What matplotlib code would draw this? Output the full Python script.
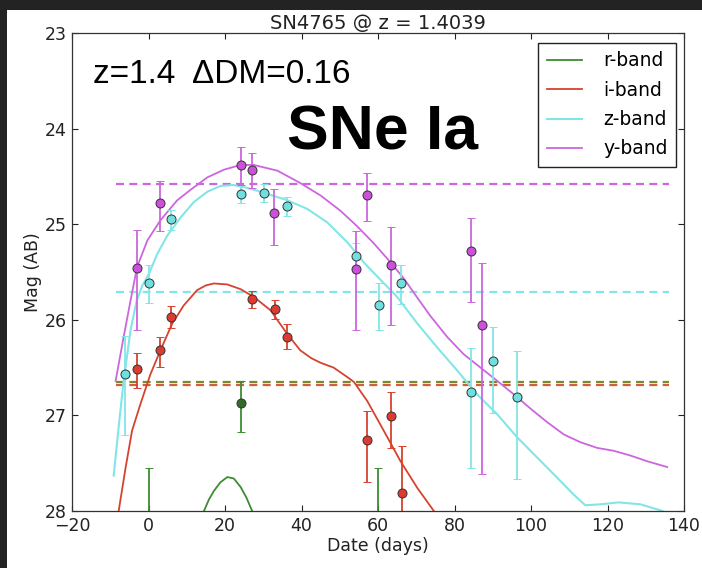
import matplotlib
matplotlib.use("Agg")
import matplotlib.pyplot as plt
from matplotlib.patches import Rectangle

# ---------------- data ----------------
title = "SN4765 @ z = 1.4039"
band_labels = ["r-band", "i-band", "z-band", "y-band"]

# observed points (day, mag, error toward bright, error toward faint)
r_day = [0.0, 24.3, 60.1]
r_mag = [28.3, 26.87, 28.3]
r_err_b = [0.75, 0.23, 0.75]
r_err_f = [1.0, 0.30, 1.0]

i_day = [-3.1, 2.95, 6.0, 27.1, 33.0, 36.3, 57.0, 63.4, 66.3]
i_mag = [26.51, 26.32, 25.97, 25.78, 25.89, 26.18, 27.26, 27.01, 27.81]
i_err_b = [0.16, 0.14, 0.11, 0.08, 0.10, 0.14, 0.31, 0.25, 0.49]
i_err_f = [0.20, 0.17, 0.12, 0.10, 0.10, 0.13, 0.44, 0.33, 0.90]

z_day = [-6.2, 0.2, 6.0, 24.3, 30.1, 36.3, 54.2, 60.2, 66.1, 84.4, 90.1, 96.4]
z_mag = [26.57, 25.61, 24.95, 24.68, 24.67, 24.81, 25.33, 25.84, 25.61, 26.75, 26.43, 26.81]
z_err_b = [0.40, 0.18, 0.10, 0.09, 0.09, 0.09, 0.13, 0.22, 0.18, 0.45, 0.35, 0.48]
z_err_f = [0.63, 0.21, 0.11, 0.10, 0.10, 0.10, 0.14, 0.27, 0.22, 0.80, 0.55, 0.86]

y_day = [-3.0, 2.95, 24.2, 27.1, 32.9, 54.3, 57.2, 63.3, 84.4, 87.3]
y_mag = [25.46, 24.78, 24.38, 24.43, 24.88, 25.47, 24.69, 25.43, 25.28, 26.05]
y_err_b = [0.40, 0.23, 0.19, 0.18, 0.25, 0.40, 0.23, 0.40, 0.34, 0.64]
y_err_f = [0.65, 0.29, 0.21, 0.19, 0.34, 0.64, 0.28, 0.62, 0.53, 1.56]

# model light curves
r_fit_day = [14.5, 15.8, 17.1, 18.8, 20.6, 22.3, 24.1, 25.6, 27.1]
r_fit_mag = [28.0, 27.88, 27.79, 27.70, 27.645, 27.66, 27.75, 27.86, 28.0]

i_fit_day = [-7.8, -6.0, -4.3, -2.1, 0.5, 3.1, 6.2, 9.2, 12.7, 15.0, 17.1, 20.6,
             24.1, 27.5, 31.9, 36.3, 39.7, 42.5, 45.0, 48.4, 52.0, 53.7, 57.2,
             61.5, 65.9, 70.3, 74.6]
i_fit_mag = [28.0, 27.55, 27.16, 26.88, 26.57, 26.32, 26.04, 25.85, 25.69, 25.64,
             25.62, 25.63, 25.68, 25.76, 25.90, 26.15, 26.32, 26.40, 26.45, 26.50,
             26.60, 26.65, 26.85, 27.16, 27.48, 27.76, 28.0]

z_fit_day = [-9.1, -7.8, -6.5, -4.7, -3.1, -1.6, 0.1, 2.3, 4.9, 8.4, 11.8, 15.4,
             18.8, 22.3, 25.8, 29.3, 36.3, 41.5, 46.7, 52.0, 56.3, 60.6, 65.0, 70.3,
             75.5, 80.7, 85.9, 91.2, 96.4, 101.6, 106.8, 111.2, 114.2, 118.2, 122.9,
             128.6, 134.4]
z_fit_mag = [27.63, 27.12, 26.64, 26.11, 25.80, 25.64, 25.52, 25.31, 25.12, 24.93,
             24.77, 24.66, 24.60, 24.59, 24.62, 24.66, 24.75, 24.84, 24.98, 25.19,
             25.40, 25.58, 25.76, 26.04, 26.29, 26.53, 26.78, 26.99, 27.23, 27.44,
             27.65, 27.83, 27.94, 27.93, 27.91, 27.93, 28.0]

y_fit_day = [-8.6, -6.5, -4.7, -3.0, -0.3, 3.1, 7.5, 11.0, 15.4, 19.7, 24.1, 27.5,
             33.7, 39.7, 45.0, 50.2, 54.5, 58.9, 63.3, 66.8, 70.3, 73.7, 78.1, 82.4,
             86.8, 91.2, 95.5, 99.9, 104.2, 108.6, 112.9, 117.3, 121.6, 126.0, 130.4,
             135.6]
y_fit_mag = [26.64, 26.18, 25.80, 25.45, 25.17, 24.96, 24.75, 24.64, 24.51, 24.43,
             24.38, 24.38, 24.44, 24.57, 24.70, 24.86, 25.02, 25.20, 25.40, 25.57,
             25.77, 25.96, 26.18, 26.36, 26.50, 26.64, 26.78, 26.93, 27.07, 27.20,
             27.28, 27.34, 27.37, 27.42, 27.48, 27.54]

# detection limits (dashed)
limit_day = [-8.6, 136.0]
r_limit = 26.655
i_limit = 26.685
z_limit = 25.71
y_limit = 24.58

xticks = [-20, 0, 20, 40, 60, 80, 100, 120, 140]
yticks = [23, 24, 25, 26, 27, 28]

# ---------------- style ----------------
c_r, c_i, c_z, c_y = "#3c8c32", "#d5432f", "#82e6e6", "#cc66dd"
f_r, f_i, f_z, f_y = "#2f6e25", "#dd3a30", "#6fe0e0", "#cc50dc"

fig = plt.figure(figsize=(7.02, 5.68), dpi=100)
fig.patch.set_facecolor("#232323")
fig.patches.append(Rectangle((7 / 702, 0), 1, 1 - 10 / 568, transform=fig.transFigure,
                             facecolor="white", edgecolor="none", zorder=-10))
ax = fig.add_axes([72 / 702, 57 / 568, 612 / 702, 478 / 568])
ax.set_zorder(1)

dash_kw = dict(lw=1.6, dashes=(3.6, 2.4))
ax.plot(limit_day, [y_limit] * 2, color=c_y, **dash_kw)
ax.plot(limit_day, [z_limit] * 2, color=c_z, **dash_kw)
ax.plot(limit_day, [r_limit] * 2, color="#7a8a2a", **dash_kw)
ax.plot(limit_day, [i_limit] * 2, color="#d0603a", **dash_kw)

line_kw = dict(lw=1.3, solid_joinstyle="round")
lr, = ax.plot(r_fit_day, r_fit_mag, color=c_r, label=band_labels[0], **line_kw)
li, = ax.plot(i_fit_day, i_fit_mag, color=c_i, label=band_labels[1], **line_kw)
lz, = ax.plot(z_fit_day, z_fit_mag, color=c_z, label=band_labels[2], lw=1.5,
              solid_joinstyle="round")
ly, = ax.plot(y_fit_day, y_fit_mag, color=c_y, label=band_labels[3], **line_kw)

eb_kw = dict(fmt="o", ms=6.5, mec="#333333", mew=0.7, capsize=3.2, elinewidth=1.3,
             capthick=1.1)
ax.errorbar(r_day, r_mag, yerr=[r_err_b, r_err_f], color=c_r, mfc=f_r, ecolor=c_r, **eb_kw)
ax.errorbar(i_day, i_mag, yerr=[i_err_b, i_err_f], color=c_i, mfc=f_i, ecolor=c_i, **eb_kw)
ax.errorbar(z_day, z_mag, yerr=[z_err_b, z_err_f], color=c_z, mfc=f_z, ecolor=c_z, **eb_kw)
ax.errorbar(y_day, y_mag, yerr=[y_err_b, y_err_f], color=c_y, mfc=f_y, ecolor=c_y, **eb_kw)

ax.set_xlim(-20, 140)
ax.set_ylim(28, 23)
ax.set_xticks(xticks)
ax.set_yticks(yticks)
ax.tick_params(direction="in", top=True, right=True, length=4.5, width=0.8,
               labelsize=12.5, colors="#222222", pad=4)
for s in ax.spines.values():
    s.set_linewidth(0.9)
    s.set_color("#333333")

ax.set_title(title, fontsize=14, pad=3, color="#222222")
ax.set_xlabel("Date (days)", fontsize=12.5, color="#222222", labelpad=2)
ax.set_ylabel("Mag (AB)", fontsize=12.5, color="#222222", labelpad=2)

leg = ax.legend(handles=[lr, li, lz, ly], loc="upper right",
                bbox_to_anchor=((676 - 72) / 612, (511 - 43) / 478), borderaxespad=0,
                fontsize=13.5, handlelength=1.9, handletextpad=1.1, labelspacing=0.55,
                borderpad=0.45, fancybox=False, framealpha=1)
leg.get_frame().set_edgecolor("#222222")
leg.get_frame().set_linewidth(1.0)

ax.text((93 - 72) / 612, (511 - 83) / 478, "z=1.4  ΔDM=0.16", transform=ax.transAxes,
        fontsize=24, family="Liberation Sans", va="baseline", ha="left", color="black")
ax.text((287 - 72) / 612, (511 - 150) / 478, "SNe Ia", transform=ax.transAxes,
        fontsize=45, family="Liberation Sans", weight="bold", va="baseline", ha="left",
        color="black")

fig.savefig("out.png", dpi=100, facecolor=fig.get_facecolor())
